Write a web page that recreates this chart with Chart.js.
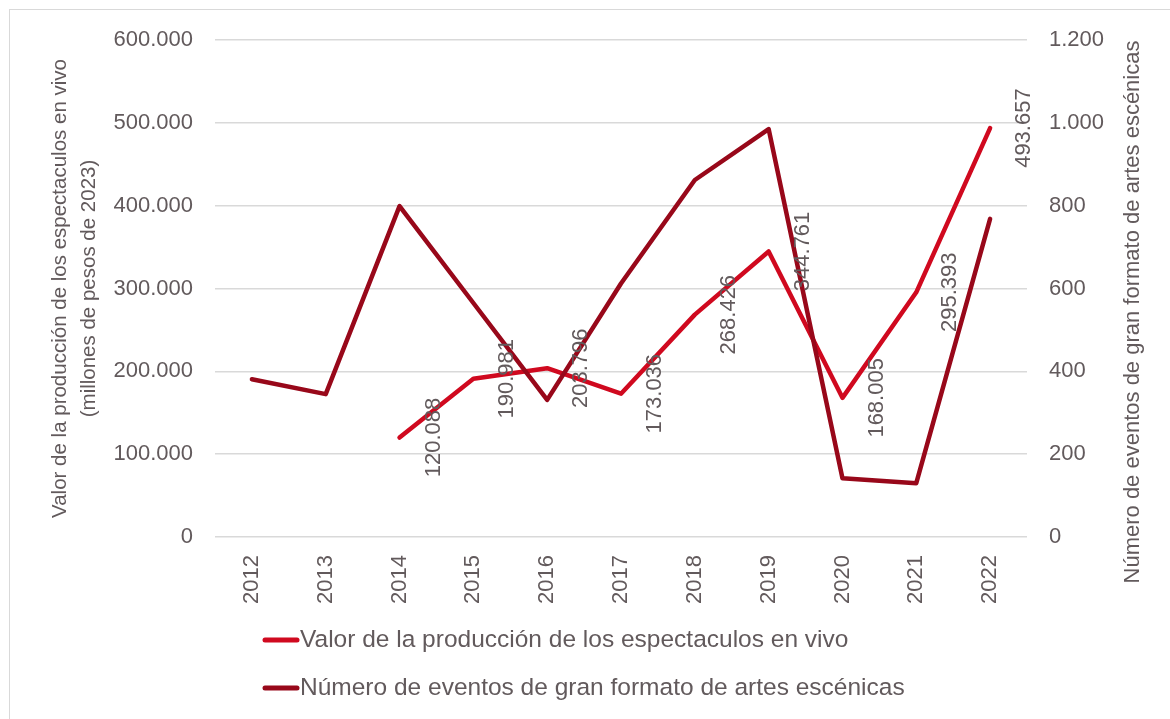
<!DOCTYPE html>
<html>
<head>
<meta charset="utf-8">
<script src="https://cdn.jsdelivr.net/npm/chart.js@4/dist/chart.umd.min.js"></script>
<style>
  body { margin: 0; background: #fff; }
  canvas { display: block; }
</style>
</head>
<body>
<canvas id="grafico" width="1170" height="719"></canvas>
<script>
// Datos
const anios = ["2012", "2013", "2014", "2015", "2016", "2017", "2018", "2019", "2020", "2021", "2022"];
const valorProduccion = [null, null, 120088, 190981, 203796, 173036, 268426, 344761, 168005, 295393, 493657];
const numeroEventos = [381, 345, 799, 565, 331, 612, 862, 985, 142, 130, 768];
const etiquetaValor = "Valor de la producción de los espectaculos en vivo";
const etiquetaEventos = "Número de eventos de gran formato de artes escénicas";
const tituloIzq = ["Valor de la producción de los espectaculos en vivo", "(millones de pesos de 2023)"];
const tituloDer = "Número de eventos de gran formato de artes escénicas";

const FUENTE = "'Liberation Sans', Arial, sans-serif";
const GRIS = "#625a5c";
const ROJO = "#d0091f";
const GRANATE = "#98081a";

// formato con punto de miles
function fmt(v) {
  return String(v).replace(/\B(?=(\d{3})+(?!\d))/g, ".");
}

// marco, etiquetas, título derecho y leyenda
const extras = {
  id: "extras",
  beforeDraw(chart) {
    const ctx = chart.ctx;
    ctx.save();
    ctx.strokeStyle = "#d9d9d9";
    ctx.lineWidth = 1;
    ctx.strokeRect(9.5, 9.5, 1170, 719);
    ctx.restore();
  },
  afterDatasetsDraw(chart) {
    const ctx = chart.ctx;
    const meta = chart.getDatasetMeta(0);
    ctx.save();
    ctx.font = "22px " + FUENTE;
    ctx.fillStyle = GRIS;
    ctx.textAlign = "center";
    ctx.textBaseline = "middle";
    meta.data.forEach((pt, i) => {
      const v = chart.data.datasets[0].data[i];
      if (v == null) return;
      ctx.save();
      ctx.translate(pt.x + 34, pt.y);
      ctx.rotate(-Math.PI / 2);
      ctx.fillText(fmt(v), 0, 0);
      ctx.restore();
    });

    // título eje derecho (se lee de abajo hacia arriba)
    ctx.save();
    ctx.font = "22px " + FUENTE;
    ctx.translate(1133, 312);
    ctx.rotate(-Math.PI / 2);
    ctx.fillText(tituloDer, 0, 0);
    ctx.restore();

    // leyenda
    const filas = [640, 688];
    ctx.font = "24.5px " + FUENTE;
    chart.data.datasets.forEach((ds, i) => {
      const y = filas[i];
      ctx.strokeStyle = ds.borderColor;
      ctx.lineWidth = 5;
      ctx.lineCap = "round";
      ctx.beginPath();
      ctx.moveTo(265, y);
      ctx.lineTo(297, y);
      ctx.stroke();
      ctx.textAlign = "left";
      ctx.fillText(ds.label, 300, y);
    });
    ctx.restore();
  }
};

const ctx = document.getElementById("grafico").getContext("2d");
new Chart(ctx, {
  type: "line",
  data: {
    labels: anios,
    datasets: [
      {
        label: etiquetaValor,
        data: valorProduccion,
        yAxisID: "y",
        borderColor: ROJO,
        backgroundColor: ROJO,
        borderWidth: 4.5,
        pointRadius: 0,
        borderCapStyle: "round",
        borderJoinStyle: "round",
        order: 1
      },
      {
        label: etiquetaEventos,
        data: numeroEventos,
        yAxisID: "y1",
        borderColor: GRANATE,
        backgroundColor: GRANATE,
        borderWidth: 4.5,
        pointRadius: 0,
        borderCapStyle: "round",
        borderJoinStyle: "round",
        order: 0
      }
    ]
  },
  options: {
    responsive: false,
    animation: false,
    layout: { padding: { left: 10, right: 10, top: 40, bottom: 112 } },
    plugins: {
      legend: { display: false },
      tooltip: { enabled: false }
    },
    scales: {
      x: {
        offset: true,
        grid: { display: false, offset: true },
        border: { display: false },
        ticks: {
          color: GRIS,
          font: { family: FUENTE, size: 22 },
          minRotation: 90,
          maxRotation: 90,
          padding: 10
        },
        afterFit(s) { s.height = 70; }
      },
      y: {
        position: "left",
        min: 0,
        max: 600000,
        grid: { color: "#d9d9d9", lineWidth: 1.5, drawTicks: false },
        border: { display: false },
        ticks: {
          stepSize: 100000,
          color: GRIS,
          font: { family: FUENTE, size: 22 },
          padding: 22,
          callback: v => fmt(v)
        },
        title: {
          display: true,
          text: tituloIzq,
          color: GRIS,
          font: { family: FUENTE, size: 20.5, lineHeight: 1.45 },
          padding: { top: 35, bottom: 0 }
        },
        afterFit(s) { s.width = 205; }
      },
      y1: {
        position: "right",
        min: 0,
        max: 1200,
        grid: { drawOnChartArea: false, drawTicks: false },
        border: { display: false },
        ticks: {
          stepSize: 200,
          color: GRIS,
          font: { family: FUENTE, size: 22 },
          padding: 22,
          callback: v => fmt(v)
        },
        afterFit(s) { s.width = 133; }
      }
    }
  },
  plugins: [extras]
});
</script>
</body>
</html>
